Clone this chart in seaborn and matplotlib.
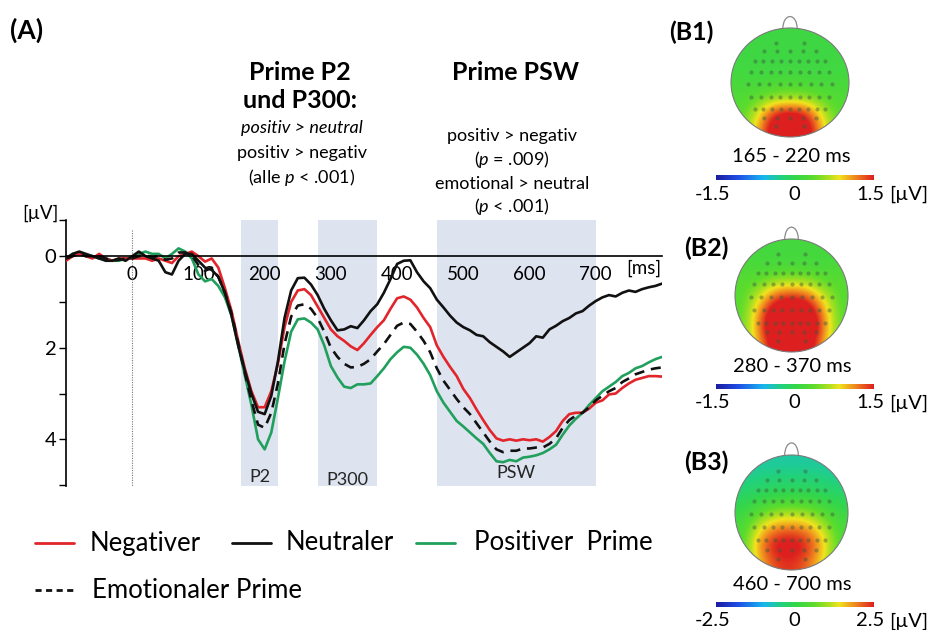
import numpy as np
import pandas as pd
import matplotlib
matplotlib.use("Agg")
import matplotlib.pyplot as plt
import seaborn as sns
from matplotlib.colors import LinearSegmentedColormap, Normalize
from matplotlib.patches import Ellipse, Arc
from matplotlib.lines import Line2D

# ---------------------------------------------------------------- data
time_ms = np.arange(-100, 801, 10)

negativ = [
    0.10, 0.00, -0.05, 0.00, 0.05, -0.05, 0.05, 0.10, 0.05, 0.05,
    0.05, 0.05, 0.05, 0.10, 0.05, 0.10, 0.15, 0.00, -0.05, -0.10,
    0.00, 0.12, 0.05, 0.25, 0.70, 1.20, 1.85, 2.45, 2.95, 3.30,
    3.30, 2.95, 2.35, 1.55, 1.00, 0.75, 0.72, 0.85, 1.10, 1.35,
    1.60, 1.75, 1.85, 1.97, 2.05, 1.90, 1.72, 1.55, 1.40, 1.15,
    0.92, 0.88, 0.95, 1.12, 1.35, 1.55, 1.95, 2.20, 2.42, 2.62,
    2.90, 3.10, 3.35, 3.58, 3.80, 3.98, 4.03, 4.00, 4.03, 4.00,
    4.02, 4.00, 4.05, 3.95, 3.82, 3.60, 3.45, 3.42, 3.42, 3.33,
    3.20, 3.15, 3.02, 3.00, 2.88, 2.78, 2.70, 2.66, 2.62, 2.62,
    2.63,
]
neutral = [
    0.05, -0.05, -0.10, -0.05, 0.00, 0.05, 0.10, 0.10, 0.05, 0.10,
    0.00, -0.10, 0.00, 0.05, 0.10, 0.35, 0.40, 0.10, -0.05, -0.05,
    0.10, 0.25, 0.30, 0.45, 0.80, 1.30, 1.95, 2.50, 3.00, 3.40,
    3.45, 3.05, 2.30, 1.35, 0.75, 0.48, 0.47, 0.62, 0.85, 1.15,
    1.40, 1.62, 1.60, 1.53, 1.57, 1.40, 1.20, 1.05, 0.80, 0.50,
    0.17, 0.10, 0.09, 0.35, 0.55, 0.70, 0.95, 1.12, 1.30, 1.45,
    1.55, 1.62, 1.72, 1.75, 1.88, 1.98, 2.08, 2.20, 2.10, 2.00,
    1.90, 1.75, 1.78, 1.60, 1.52, 1.42, 1.35, 1.25, 1.20, 1.08,
    0.98, 0.90, 0.85, 0.88, 0.80, 0.75, 0.78, 0.72, 0.68, 0.65,
    0.60,
]
positiv = [
    0.05, -0.05, -0.05, 0.00, 0.00, 0.05, 0.05, 0.10, 0.10, 0.05,
    0.05, -0.05, -0.10, -0.05, -0.05, 0.05, -0.05, -0.17, -0.10, 0.05,
    0.40, 0.55, 0.50, 0.65, 0.90, 1.30, 1.95, 2.60, 3.25, 4.00,
    4.22, 3.85, 3.10, 2.30, 1.65, 1.38, 1.36, 1.45, 1.60, 1.95,
    2.40, 2.65, 2.85, 2.88, 2.80, 2.80, 2.78, 2.62, 2.45, 2.25,
    2.10, 1.98, 2.00, 2.15, 2.35, 2.60, 2.95, 3.20, 3.40, 3.60,
    3.72, 3.85, 3.98, 4.10, 4.30, 4.48, 4.50, 4.45, 4.48, 4.40,
    4.38, 4.35, 4.30, 4.22, 4.12, 3.90, 3.70, 3.55, 3.42, 3.25,
    3.10, 2.95, 2.85, 2.75, 2.62, 2.55, 2.45, 2.40, 2.32, 2.25,
    2.20,
]
emotional = [
    0.05, 0.00, -0.05, 0.00, 0.00, 0.00, 0.05, 0.10, 0.08, 0.05,
    0.05, 0.00, -0.02, 0.02, 0.00, 0.08, 0.05, -0.08, -0.08, -0.02,
    0.20, 0.32, 0.25, 0.45, 0.80, 1.25, 1.90, 2.55, 3.15, 3.68,
    3.75, 3.42, 2.78, 1.92, 1.32, 1.08, 1.05, 1.15, 1.35, 1.65,
    2.00, 2.20, 2.35, 2.43, 2.42, 2.35, 2.25, 2.08, 1.92, 1.72,
    1.52, 1.45, 1.48, 1.65, 1.85, 2.10, 2.45, 2.72, 2.92, 3.12,
    3.30, 3.45, 3.65, 3.85, 4.05, 4.22, 4.28, 4.25, 4.25, 4.20,
    4.20, 4.18, 4.18, 4.10, 3.98, 3.75, 3.58, 3.48, 3.42, 3.30,
    3.15, 3.05, 2.95, 2.88, 2.75, 2.67, 2.58, 2.53, 2.48, 2.45,
    2.43,
]

window_start = [165, 280, 460]
window_end = [220, 370, 700]
window_names = ["P2", "P300", "PSW"]

x_ticks = [0, 100, 200, 300, 400, 500, 600, 700]
y_ticks = [0, 2, 4]

legend_labels = ["Negativer", "Neutraler", "Positiver  Prime", "Emotionaler Prime"]

# topographies (µV), rows from frontal (top) to occipital (bottom)
topo_b1 = [
    [0.10, 0.10, 0.10, 0.10, 0.10, 0.10, 0.10],
    [0.10, 0.10, 0.10, 0.10, 0.10, 0.10, 0.10],
    [0.12, 0.10, 0.10, 0.10, 0.10, 0.10, 0.12],
    [0.18, 0.15, 0.18, 0.20, 0.18, 0.15, 0.18],
    [0.25, 0.30, 0.50, 0.55, 0.50, 0.30, 0.25],
    [0.25, 0.70, 1.50, 1.70, 1.50, 0.70, 0.25],
    [0.30, 0.90, 1.80, 2.00, 1.80, 0.90, 0.30],
]
topo_b2 = [
    [0.15, 0.15, 0.15, 0.15, 0.15, 0.15, 0.15],
    [0.20, 0.15, 0.15, 0.15, 0.15, 0.15, 0.20],
    [0.30, 0.30, 0.45, 0.50, 0.45, 0.30, 0.30],
    [0.30, 0.70, 1.30, 1.45, 1.30, 0.70, 0.30],
    [0.30, 1.10, 1.90, 2.00, 1.90, 1.10, 0.30],
    [0.35, 1.20, 2.10, 2.20, 2.10, 1.20, 0.35],
    [0.35, 1.00, 1.80, 1.90, 1.80, 1.00, 0.35],
]
topo_b3 = [
    [-0.70, -0.60, -0.60, -0.60, -0.60, -0.60, -0.70],
    [-0.50, -0.40, -0.35, -0.35, -0.35, -0.40, -0.50],
    [-0.20, -0.10, 0.00, 0.00, 0.00, -0.10, -0.20],
    [0.10, 0.50, 0.90, 1.00, 0.90, 0.50, 0.10],
    [0.30, 1.40, 2.00, 2.10, 1.90, 1.20, 0.30],
    [0.40, 1.90, 2.70, 2.80, 2.50, 1.60, 0.40],
    [0.40, 1.60, 2.30, 2.40, 2.10, 1.30, 0.40],
]
topo_windows = ["165 - 220 ms", "280 - 370 ms", "460 - 700 ms"]
topo_limits = [1.5, 1.5, 2.5]
topo_panels = ["(B1)", "(B2)", "(B3)"]

# ---------------------------------------------------------------- style
sns.set_theme(style="white")
plt.rcParams["font.family"] = ["Lato", "DejaVu Sans"]
plt.rcParams["mathtext.fontset"] = "custom"
plt.rcParams["mathtext.rm"] = "Lato"
plt.rcParams["mathtext.it"] = "Lato:italic"
plt.rcParams["mathtext.bf"] = "Lato:bold"

W, H = 930, 630
fig = plt.figure(figsize=(W / 100, H / 100), dpi=100)
fig.patch.set_facecolor("white")


def px_axes(x0, y0, w, h):
    return fig.add_axes([x0 / W, 1 - (y0 + h) / H, w / W, h / H])


def ftext(x, y, s, **kw):
    kw.setdefault("ha", "center")
    kw.setdefault("va", "center")
    kw.setdefault("color", "black")
    return fig.text(x / W, 1 - y / H, s, **kw)


RED = "#e2252b"
GREEN = "#20a05c"
BLACK = "#111111"
SHADE = "#dde3ef"

# ---------------------------------------------------------------- ERP panel
ax = px_axes(66, 220, 596, 266)
ax.set_facecolor("none")

for s, e in zip(window_start, window_end):
    ax.axvspan(s, e, color=SHADE, lw=0, zorder=0)

label_v = [4.83, 4.89, 4.74]
for s, e, name, v in zip(window_start, window_end, window_names, label_v):
    ax.text((s + e) / 2, v, name, ha="center", va="center", fontsize=13, zorder=1)

ax.plot([0, 0], [-0.57, 5.1], ls=(0, (1, 1.2)), color="#777777", lw=0.8, zorder=1)

df = pd.DataFrame({
    "t": np.tile(time_ms, 4),
    "v": np.concatenate([positiv, negativ, emotional, neutral]),
    "cond": np.repeat(["positiv", "negativ", "emotional", "neutral"], len(time_ms)),
})
styles = {
    "positiv": dict(color=GREEN, ls="-"),
    "negativ": dict(color=RED, ls="-"),
    "emotional": dict(color=BLACK, ls=(0, (3.8, 2.6))),
    "neutral": dict(color=BLACK, ls="-"),
}
for i, (cond, st) in enumerate(styles.items()):
    sub = df[df["cond"] == cond]
    sns.lineplot(data=sub, x="t", y="v", ax=ax, color=st["color"],
                 linestyle=st["ls"], lw=1.9, zorder=3 + i, legend=False)

ax.set_xlim(-100, 800)
ax.set_ylim(5.02, -0.79)
ax.set_xlabel("")
ax.set_ylabel("")

for side in ["top", "right"]:
    ax.spines[side].set_visible(False)
ax.spines["bottom"].set_position(("data", 0))
ax.spines["bottom"].set_zorder(10)
for side in ["left", "bottom"]:
    ax.spines[side].set_color("black")
    ax.spines[side].set_linewidth(1.2)

ax.set_xticks(x_ticks)
ax.set_xticklabels([str(t) for t in x_ticks], fontsize=13.5)
ax.set_yticks(y_ticks)
ax.set_yticklabels([str(v) for v in y_ticks], fontsize=14.5)
ax.set_yticks([-0.79, 1, 3, 5], minor=True)
ax.tick_params(axis="x", direction="out", length=4, width=1, pad=3, colors="black")
ax.tick_params(axis="y", which="both", direction="out", length=5, width=1, pad=2, colors="black", left=True)
ax.tick_params(axis="x", which="minor", length=0)
ax.grid(False)

ftext(40, 213, "[µV]", fontsize=13.5)
ftext(644, 268, "[ms]", fontsize=13.5)

# ---------------------------------------------------------------- annotations
ftext(27, 30, "(A)", fontsize=19, fontweight="bold")
ftext(300, 72, "Prime P2", fontsize=18, fontweight="bold")
ftext(300, 101, "und P300:", fontsize=18, fontweight="bold")
ftext(302, 128, "positiv > neutral", fontsize=13, style="italic")
ftext(302, 153, "positiv > negativ", fontsize=13)
ftext(302, 178, r"(alle $p$ < .001)", fontsize=13)

ftext(515, 72, "Prime PSW", fontsize=18, fontweight="bold")
ftext(512, 136, "positiv > negativ", fontsize=13)
ftext(512, 160, r"($p$ = .009)", fontsize=13)
ftext(512, 184, "emotional > neutral", fontsize=13)
ftext(512, 207, r"($p$ < .001)", fontsize=13)

# ---------------------------------------------------------------- legend
leg_y1, leg_y2 = 543, 590
fig.add_artist(Line2D([35 / W, 74 / W], [1 - leg_y1 / H] * 2, color=RED, lw=2))
ftext(90, leg_y1, legend_labels[0], fontsize=18.5, ha="left")
fig.add_artist(Line2D([232 / W, 271 / W], [1 - leg_y1 / H] * 2, color=BLACK, lw=2))
ftext(286, leg_y1, legend_labels[1], fontsize=18.5, ha="left")
fig.add_artist(Line2D([416 / W, 455 / W], [1 - leg_y1 / H] * 2, color=GREEN, lw=2))
ftext(474, leg_y1, legend_labels[2], fontsize=18.5, ha="left")
fig.add_artist(Line2D([35 / W, 73 / W], [1 - leg_y2 / H] * 2, color=BLACK, lw=2,
                      ls=(0, (2.2, 1.6))))
ftext(92, leg_y2, legend_labels[3], fontsize=18.5, ha="left")

# ---------------------------------------------------------------- topographies
topo_cmap = LinearSegmentedColormap.from_list("topo", [
    (0.00, "#1c1ca0"), (0.14, "#1f4fe6"), (0.30, "#18b6f0"),
    (0.42, "#22d27a"), (0.50, "#33d64c"), (0.62, "#5ddc2c"),
    (0.72, "#b2e020"), (0.78, "#f0e41e"), (0.88, "#f08a1e"),
    (1.00, "#dd1f1f"),
])

elec_y = [0.73, 0.57, 0.39, 0.20, -0.02, -0.26, -0.48, -0.65, -0.80]
elec_n = [2, 5, 9, 9, 9, 9, 9, 5, 2]
elec_half = [0.24, 0.44, 0.60, 0.66, 0.71, 0.66, 0.60, 0.44, 0.24]
ex, ey = [], []
for yy, n, hw in zip(elec_y, elec_n, elec_half):
    for xx in np.linspace(-hw, hw, n):
        ex.append(xx)
        ey.append(yy)

# head centre x, centre y, radius x, radius y (pixels); title y; colorbar y; panel label y
head_geom = [
    (790, 82.5, 59, 54.5, 156, 175, 32),
    (791.5, 295.5, 56.5, 56.5, 367, 384, 248),
    (791.5, 512.5, 56.5, 57.5, 585, 602, 462),
]
panel_x = [691, 706, 706]

for grid, title, lim, panel, geom, pxl in zip(
        [topo_b1, topo_b2, topo_b3], topo_windows, topo_limits, topo_panels,
        head_geom, panel_x):
    cx, cy, rx, ry, ty, cby, py = geom
    pad = 18
    hax = px_axes(cx - rx - pad, cy - ry - pad, 2 * (rx + pad), 2 * (ry + pad))
    hax.set_xlim(-(rx + pad) / rx, (rx + pad) / rx)
    hax.set_ylim(-(ry + pad) / ry, (ry + pad) / ry)
    hax.set_axis_off()
    norm = Normalize(-lim, lim)
    im = hax.imshow(np.array(grid), extent=(-1, 1, -1, 1), origin="upper",
                    interpolation="bicubic", cmap=topo_cmap, norm=norm,
                    aspect="auto", zorder=1)
    head = Ellipse((0, 0), 2, 2, facecolor="none", edgecolor="#7a7a7a", lw=0.8, zorder=3)
    hax.add_patch(head)
    im.set_clip_path(head)
    hax.add_patch(Arc((0, 1.0), 0.24, 0.42, theta1=0, theta2=180,
                      edgecolor="#8a8a8a", lw=0.9, zorder=3))
    hax.scatter(ex, ey, s=9, color="#3d5a3d", alpha=0.45, lw=0, zorder=2)

    ftext(cx + 1, ty, title, fontsize=14.5)
    ftext(pxl, py, panel, fontsize=18, fontweight="bold")

    cax = px_axes(716, cby, 158, 5)
    cax.imshow(np.linspace(-lim, lim, 256)[None, :], aspect="auto",
               cmap=topo_cmap, norm=norm, extent=(-lim, lim, 0, 1))
    cax.set_axis_off()
    lab_y = cby + 19
    ftext(713, lab_y, f"-{lim}", fontsize=14.5)
    ftext(794, lab_y, "0", fontsize=14.5)
    ftext(870, lab_y, f"{lim}", fontsize=14.5)
    ftext(889, lab_y, "[µV]", fontsize=14.5, ha="left")

fig.savefig("out.png", dpi=100, facecolor="white")
